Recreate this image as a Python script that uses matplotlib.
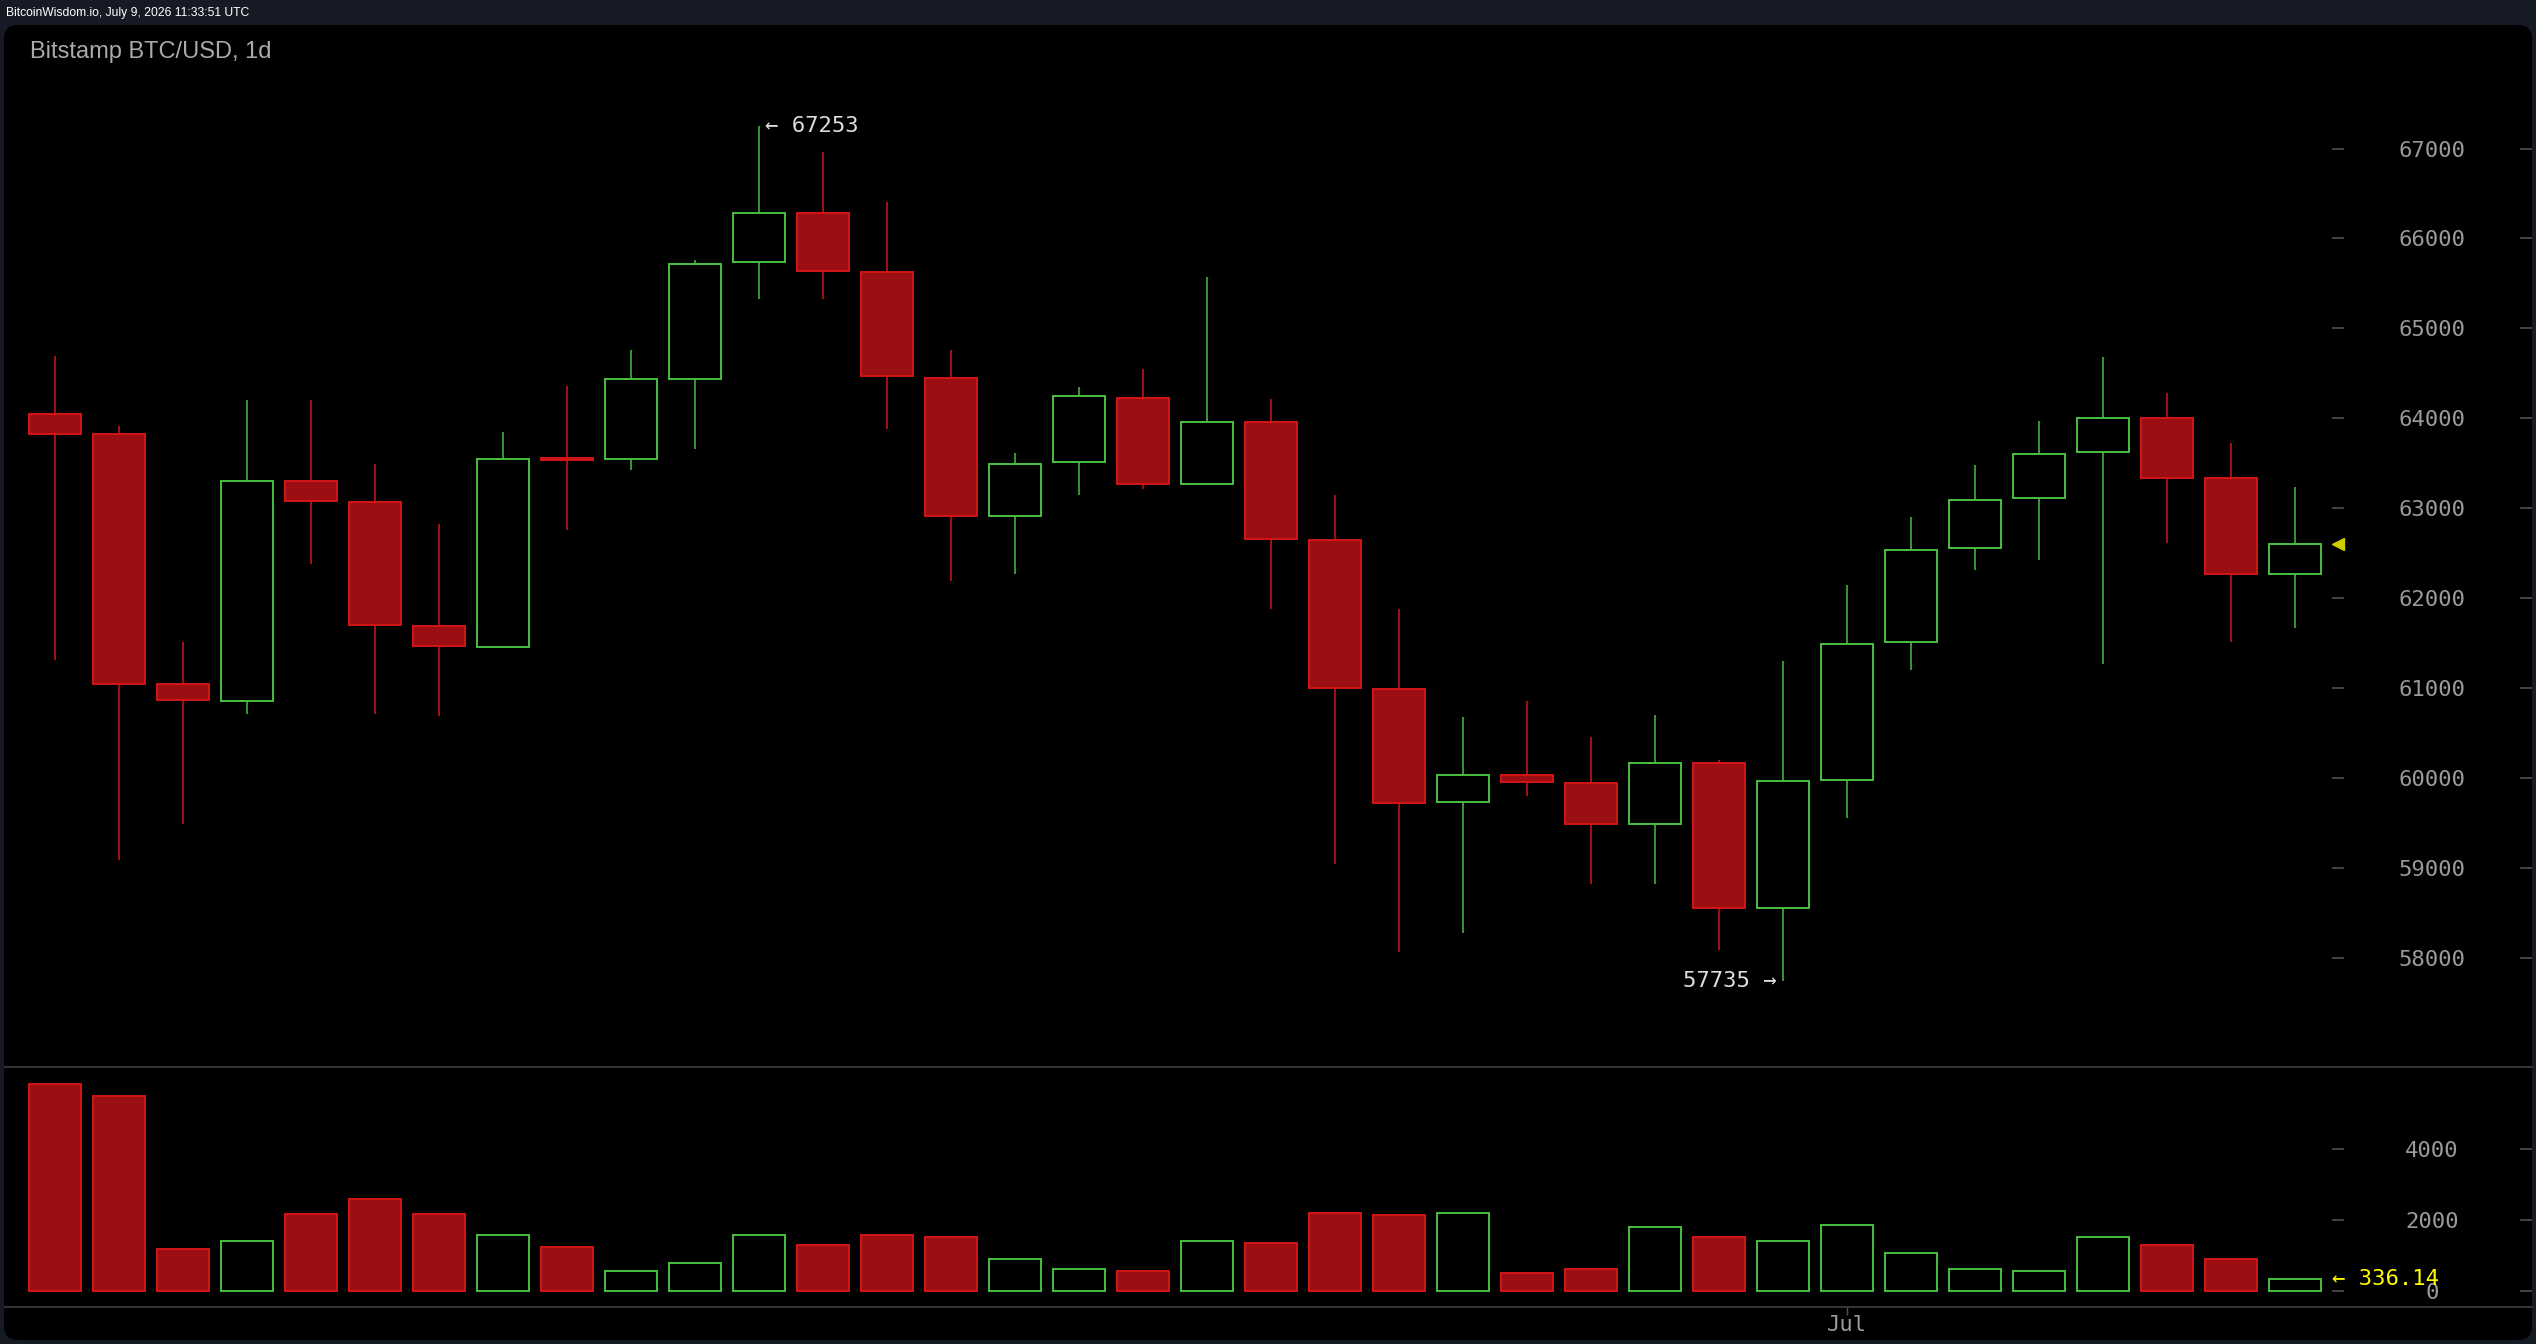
import numpy as np
import matplotlib
matplotlib.use("Agg")
import matplotlib.pyplot as plt
from matplotlib.lines import Line2D
from matplotlib.patches import FancyBboxPatch
from matplotlib.transforms import IdentityTransform, blended_transform_factory
from matplotlib import font_manager

# daily candles, Bitstamp BTC/USD
opens = [64043, 63821, 61039, 60852, 63304, 63062, 61683, 61457, 63560, 63545,
         64438, 65732, 66286, 65623, 64450, 62908, 63507, 64227, 63265, 63960,
         62647, 60983, 59734, 60027, 59938, 59485, 60161, 58554, 59976, 61512,
         62557, 63112, 63622, 64004, 63335, 62270]
highs = [64690, 63912, 61509, 64202, 64202, 63491, 62824, 63845, 64357, 64758,
         65757, 67253, 66962, 66407, 64763, 63609, 64342, 64546, 65566, 64208,
         63144, 61875, 60677, 60855, 60454, 60702, 60193, 61302, 62143, 62902,
         63475, 63966, 64680, 64278, 63724, 63233]
lows = [61314, 59089, 59486, 60713, 62382, 60713, 60690, 61450, 62760, 63428,
        63660, 65324, 65324, 63877, 62188, 62264, 63144, 63214, 63255, 61882,
        59039, 58064, 58268, 59797, 58822, 58822, 58089, 57735, 59555, 61193,
        62309, 62417, 61263, 62615, 61512, 61665]
closes = [63828, 61047, 60869, 63304, 63074, 61695, 61469, 63550, 63540, 64440,
          65712, 66286, 65642, 64469, 62908, 63494, 64246, 63265, 63960, 62659,
          61002, 59715, 60027, 59957, 59485, 60161, 58554, 59963, 61493, 62538,
          63093, 63603, 64004, 63335, 62270, 62602]
volumes = [5814, 5476, 1183, 1408, 2152, 2592, 2152, 1577, 1239, 563,
           784, 1568, 1286, 1568, 1512, 883, 601, 554, 1399, 1343,
           2188, 2132, 2188, 498, 610, 1784, 1512, 1399, 1850, 1061,
           610, 554, 1512, 1286, 892, 336.14]

price_ticks = [58000, 59000, 60000, 61000, 62000, 63000, 64000, 65000, 66000, 67000]
vol_ticks = [0, 2000, 4000]
month_ticks = [28]
month_labels = ["Jul"]

W, H = 2536, 1344
GREEN = "#48c03c"
RED = "#d41515"
RED_FILL = "#9b0f12"
GRID = "#444444"
LABEL = "#9a9a9a"
MONO = "DejaVu Sans Mono"

names = set(f.name for f in font_manager.fontManager.ttflist)
if "Liberation Sans Narrow" in names:
    head_font, head_size = "Liberation Sans Narrow", 10.4
else:
    head_font, head_size = "Liberation Sans", 8.7


def fx(px):
    return px / W


def fy(py):
    return 1 - py / H


fig = plt.figure(figsize=(W / 100, H / 100), dpi=100)
fig.patch.set_facecolor("#151a24")

# black rounded panel
fig.add_artist(FancyBboxPatch((4, 4), 2528, 1315,
                              boxstyle="round,pad=0,rounding_size=14",
                              transform=IdentityTransform(),
                              facecolor="#000000", edgecolor="none", zorder=0))

fig.text(fx(6), fy(13), "BitcoinWisdom.io, July 9, 2026 11:33:51 UTC",
         color="white", fontsize=head_size, family=[head_font, "DejaVu Sans"],
         ha="left", va="center")
fig.text(fx(30), fy(52), "Bitstamp BTC/USD, 1d", color="#aaaaaa",
         fontsize=17, family="Liberation Sans", ha="left", va="center")

left, right = 5, 2332
ax_p = fig.add_axes([fx(left), fy(1067), fx(right) - fx(left), fy(25) - fy(1067)])
ax_v = fig.add_axes([fx(left), fy(1307), fx(right) - fx(left), fy(1067) - fy(1307)],
                    sharex=ax_p)

x = np.arange(len(opens))
up = [c >= o for o, c in zip(opens, closes)]
edge = [GREEN if u else RED for u in up]
face = ["#000000" if u else RED_FILL for u in up]
body_lo = [min(o, c) for o, c in zip(opens, closes)]
body_h = [max(abs(c - o), 12) for o, c in zip(opens, closes)]

ax_p.vlines(x, lows, highs, colors=edge, linewidth=1.1, zorder=2)
ax_p.bar(x, body_h, bottom=body_lo, width=0.81, color=face, edgecolor=edge,
         linewidth=1.4, zorder=3)
ax_v.bar(x, volumes, width=0.81, color=face, edgecolor=edge, linewidth=1.4, zorder=3)

ax_p.set_xlim(-0.78, 35.58)
ax_p.set_ylim(56782, 68374)
ax_v.set_ylim(-459, 6301)

for ax, ticks in ((ax_p, price_ticks), (ax_v, vol_ticks)):
    ax.set_facecolor("none")
    for s in ax.spines.values():
        s.set_visible(False)
    ax.yaxis.tick_right()
    ax.set_yticks(ticks)
    ax.set_yticklabels([str(t) for t in ticks])
    ax.tick_params(axis="y", direction="out", length=8.6, width=1.1, color="#555555",
                   labelcolor=LABEL, labelsize=16, pad=63.4, labelfontfamily=MONO)
    plt.setp(ax.get_yticklabels(), ha="center")

ax_p.tick_params(axis="x", bottom=False, labelbottom=False)
ax_v.set_xticks(month_ticks)
ax_v.set_xticklabels(month_labels)
ax_v.tick_params(axis="x", direction="out", length=5.8, width=1.0, color="#555555",
                 labelcolor=LABEL, labelsize=16, pad=0, labelfontfamily=MONO)

# second column of tick dashes at the far right
for top, bot, src in ((25, 1067, ax_p), (1067, 1307, ax_v)):
    axr = fig.add_axes([fx(2520), fy(bot), fx(2532) - fx(2520), fy(top) - fy(bot)],
                       sharey=src)
    axr.set_facecolor("none")
    for s in axr.spines.values():
        s.set_visible(False)
    axr.set_xticks([])
    axr.tick_params(axis="y", direction="in", length=8.6, width=1.1, color="#555555",
                    left=True, right=False, labelleft=False, labelright=False)

# panel separators
for py in (1067, 1307):
    fig.add_artist(Line2D([fx(5), fx(2532)], [fy(py), fy(py)], color=GRID,
                          linewidth=1.1, zorder=1))

# high / low markers
i_hi = int(np.argmax(highs))
i_lo = int(np.argmin(lows))
ax_p.annotate("\u2190 %d" % highs[i_hi], xy=(x[i_hi], highs[i_hi]), xytext=(4.3, 0),
              textcoords="offset points", ha="left", va="center", color="#dddddd",
              fontsize=16, family=MONO)
ax_p.annotate("%d \u2192" % lows[i_lo], xy=(x[i_lo], lows[i_lo]), xytext=(-4.3, 0),
              textcoords="offset points", ha="right", va="center", color="#dddddd",
              fontsize=16, family=MONO)

# last price marker and last volume
tp = blended_transform_factory(ax_p.transAxes, ax_p.transData)
ax_p.plot([1.0026], [closes[-1]], marker="<", markersize=8.3, color="#cccc00",
          transform=tp, clip_on=False, zorder=5)
tv = blended_transform_factory(ax_v.transAxes, ax_v.transData)
ax_v.text(1.0, volumes[-1], "\u2190 %.2f" % volumes[-1], transform=tv, ha="left",
          va="center", color="#ffff00", fontsize=16, family=MONO, zorder=5)

fig.savefig("out.png", dpi=100, facecolor=fig.get_facecolor())
